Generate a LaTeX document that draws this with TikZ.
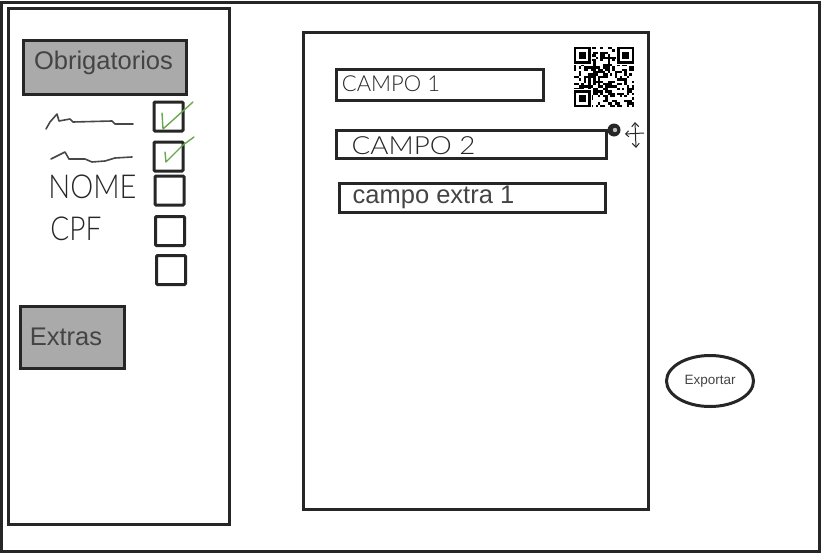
\documentclass[tikz,border=0pt]{standalone}
\usepackage{fontspec}
\setmainfont{Liberation Sans}
\newfontfamily\handfont{Lato Light}
\usetikzlibrary{arrows.meta, shapes.geometric}
\definecolor{linecol}{HTML}{262626}
\definecolor{textcol}{HTML}{444444}
\definecolor{btncol}{HTML}{AAAAAA}
\definecolor{checkcol}{HTML}{6AA84F}
\tikzset{
  panel/.style={draw=linecol, line width=3pt, inner sep=0pt},
  btn/.style={panel, fill=btncol},
  lbl/.style={text=textcol, inner sep=0pt, font=\fontsize{25.5}{26}\selectfont},
  chk/.style={panel, rounded corners=1pt, minimum width=29pt, minimum height=29pt},
  hand/.style={text=linecol, inner sep=0pt, font=\handfont},
  scrib/.style={draw=linecol!85, line width=1.6pt, line join=round, line cap=round},
  tick/.style={draw=checkcol, line width=1.4pt, line join=round, line cap=round}
}
\begin{document}
\begin{tikzpicture}[x=1pt, y=-1pt]
  \useasboundingbox (0,0) rectangle (821,554);
  % janela e paineis
  \node[panel, minimum width=818pt, minimum height=549pt] (frame) at (410,276.5) {};
  \node[panel, minimum width=221pt, minimum height=516pt] (sidebar) at (118.5,266) {};
  \node[panel, minimum width=345pt, minimum height=477pt] (sheet) at (475.5,270.5) {};
  % botoes
  \node[btn, minimum width=163pt, minimum height=54pt] (obrig) at (104.5,67) {};
  \node[lbl] (obrigtxt) at (103.5,63) {Obrigatorios};
  \node[btn, minimum width=104pt, minimum height=62pt] (extras) at (72,337) {};
  \node[lbl] (extrastxt) at (66,337) {Extras};
  % checkboxes
  \foreach \nm/\cx/\cy in {a/168.5/116.5, b/168.5/156.5, c/169.5/190.5, d/170/231, e/171/270}
    \node[chk] (chk\nm) at (\cx,\cy) {};
  % rabiscos da lista
  \draw[scrib] (46,129) -- (50,122) -- (57,114) -- (59,121) -- (70,119) -- (73,122) -- (112,121) -- (115,124) -- (133,124);
  \draw[scrib] (51,159) -- (65,152) -- (69,159) -- (85,159) -- (92,162) -- (105,161) -- (115,158) -- (132,157);
  \node[hand, font=\handfont\fontsize{33}{33}\selectfont, xscale=.88] (nome) at (92.5,187) {NOME};
  \node[hand, font=\handfont\fontsize{33}{33}\selectfont, xscale=.85] (cpf) at (76,229) {CPF};
  \draw[tick] (162,113) -- (163,129) -- (173,120) -- (193,102);
  \draw[tick] (165,152) -- (166,162) -- (183,145) -- (194,137);
  % campos
  \node[panel, minimum width=207pt, minimum height=31pt] (campoa) at (440,85) {};
  \node[panel, minimum width=270pt, minimum height=28pt] (campob) at (471,144.5) {};
  \node[panel, minimum width=266pt, minimum height=29pt] (campoc) at (472.5,198) {};
  \node[hand, font=\handfont\fontsize{22}{22}\selectfont] (campoatxt) at (391,84) {CAMPO 1};
  \node[hand, font=\handfont\fontsize{25}{25}\selectfont, xscale=1.11] (campobtxt) at (413.5,146) {CAMPO 2};
  \node[lbl] (campoctxt) at (433.5,197) {campo extra 1};
  % qr code
  \pgfmathsetseed{17}
  \foreach \i in {0,...,24} \foreach \j in {0,...,24} {
    \pgfmathrandominteger{\qrbit}{0}{1}
    \ifnum\qrbit=1 \fill[black] (574+\i*2.4,47+\j*2.4) rectangle ++(2.4,2.4); \fi
  }
  \foreach \qx/\qy in {574/47, 617.2/47, 574/90.2} {
    \fill[white] (\qx-1,\qy-1) rectangle ++(19,19);
    \draw[black, line width=2.4pt] (\qx+1.2,\qy+1.2) rectangle ++(14.4,14.4);
    \fill[black] (\qx+4.8,\qy+4.8) rectangle ++(7.2,7.2);
  }
  % alca e setas de mover
  \fill[linecol] (614,130) circle (6.5);
  \fill[white!70!linecol] (615,130) circle (2.2);
  \coordinate (movet) at (635,122);
  \coordinate (moveb) at (636,148);
  \coordinate (movel) at (625,134);
  \coordinate (mover) at (644,133);
  \draw[linecol, line width=1pt, {Straight Barb[length=4pt,width=7pt]}-{Straight Barb[length=4pt,width=7pt]}] (movet) -- (moveb);
  \draw[linecol, line width=1pt, {Straight Barb[length=3pt,width=6pt]}-] (movel) -- (mover);
  % exportar
  \node[draw=linecol, line width=3pt, ellipse, minimum width=87pt, minimum height=51pt, inner sep=0pt, text=textcol, font=\fontsize{13.5}{14}\selectfont] (exportar) at (710,381) {Exportar};
\end{tikzpicture}
\end{document}
